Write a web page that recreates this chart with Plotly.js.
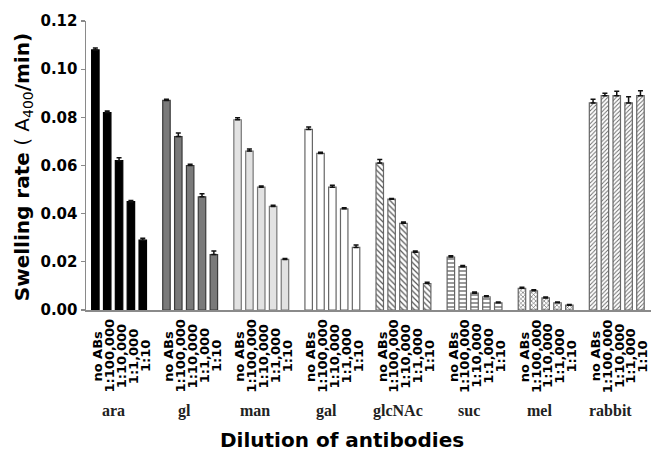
<!DOCTYPE html>
<html>
<head>
<meta charset="utf-8">
<script src="https://cdn.plot.ly/plotly-3.0.1.min.js"></script>
<style>html,body{margin:0;padding:0;background:#fff;}#chart{width:651px;height:451px;}</style>
</head>
<body>
<div id="chart"></div>
<script>
// ---- data ----
const groups = ["ara", "gl", "man", "gal", "glcNAc", "suc", "mel", "rabbit"];
const dilutions = ["no ABs", "1:100,000", "1:10,000", "1:1,000", "1:10"];

const ara    = [0.108, 0.082, 0.062, 0.045, 0.029];
const gl     = [0.087, 0.072, 0.060, 0.047, 0.023];
const man    = [0.079, 0.066, 0.051, 0.043, 0.021];
const gal    = [0.075, 0.065, 0.051, 0.042, 0.026];
const glcNAc = [0.061, 0.046, 0.036, 0.024, 0.011];
const suc    = [0.022, 0.018, 0.007, 0.0055, 0.003];
const mel    = [0.009, 0.008, 0.005, 0.003, 0.002];
const rabbit = [0.086, 0.089, 0.089, 0.086, 0.089];

const araErr    = [0.0008, 0.0006, 0.0012, 0.0005, 0.0008];
const glErr     = [0.0005, 0.0015, 0.0005, 0.0013, 0.0015];
const manErr    = [0.0008, 0.0008, 0.0005, 0.0005, 0.0004];
const galErr    = [0.0010, 0.0005, 0.0008, 0.0005, 0.0010];
const glcNAcErr = [0.0015, 0.0003, 0.0005, 0.0005, 0.0005];
const sucErr    = [0.0005, 0.0005, 0.0005, 0.0004, 0.0003];
const melErr    = [0.0004, 0.0004, 0.0004, 0.0003, 0.0003];
const rabbitErr = [0.0015, 0.0010, 0.0018, 0.0025, 0.0020];

const values = [ara, gl, man, gal, glcNAc, suc, mel, rabbit];
const errors = [araErr, glErr, manErr, galErr, glcNAcErr, sucErr, melErr, rabbitErr];

// ---- styles ----
const slotsPerGroup = 6;
const styles = [
  {color: "#000000", line: "#000000"},
  {color: "#7a7a7a", line: "#3a3a3a"},
  {color: "#e2e2e2", line: "#777777"},
  {color: "#ffffff", line: "#666666"},
  {color: "#ffffff", line: "#666666", pattern: {shape: "\\", size: 4, solidity: 0.3, fgcolor: "#555", bgcolor: "#fff"}},
  {color: "#ffffff", line: "#666666", pattern: {shape: "-", size: 4, solidity: 0.3, fgcolor: "#555", bgcolor: "#fff"}},
  {color: "#ffffff", line: "#666666", pattern: {shape: "x", size: 3, solidity: 0.35, fgcolor: "#555", bgcolor: "#fff"}},
  {color: "#ffffff", line: "#666666", pattern: {shape: "/", size: 3, solidity: 0.3, fgcolor: "#666", bgcolor: "#fff"}}
];

const traces = groups.map((g, gi) => {
  const xs = dilutions.map((d, i) => gi * slotsPerGroup + i);
  const st = styles[gi];
  const marker = {color: st.color, line: {color: st.line, width: 1.2}};
  if (st.pattern) marker.pattern = st.pattern;
  return {
    type: "bar",
    name: g,
    x: xs,
    y: values[gi],
    width: 0.63,
    marker: marker,
    error_y: {type: "data", symmetric: false, array: errors[gi], arrayminus: dilutions.map(() => 0),
              color: "#111", thickness: 1.5, width: 2.5},
    showlegend: false,
    hoverinfo: "x+y"
  };
});

const annotations = [];
groups.forEach((g, gi) => {
  dilutions.forEach((d, i) => {
    annotations.push({
      x: gi * slotsPerGroup + i, xref: "x", y: -0.16, yref: "paper",
      text: "<b>" + d + "</b>", textangle: -90, showarrow: false, xanchor: "center", yanchor: "middle", xshift: 2,
      font: {family: "DejaVu Sans", size: 13, color: "#000"}
    });
  });
  annotations.push({
    x: gi * slotsPerGroup + 1.5, xref: "x", y: -0.349, yref: "paper",
    text: "<b>" + g + "</b>", showarrow: false, xanchor: "center", yanchor: "middle",
    font: {family: "Liberation Serif", size: 16, color: "#222"}
  });
});
annotations.push({
  x: 0.453, xref: "paper", y: -0.45, yref: "paper",
  text: "<b>Dilution of antibodies</b>", showarrow: false, xanchor: "center", yanchor: "middle",
  font: {family: "DejaVu Sans", size: 20, color: "#000"}
});
annotations.push({
  x: -0.112, xref: "paper", y: 0.493, yref: "paper", textangle: -90,
  text: "<b>Swelling rate</b> ( A<sub>400</sub><b>/min)</b>", showarrow: false, xanchor: "center", yanchor: "middle",
  font: {family: "DejaVu Sans", size: 20, color: "#000"}
});

const layout = {
  width: 651, height: 451,
  margin: {l: 86, r: 0, t: 21, b: 141, pad: 0},
  paper_bgcolor: "#fff", plot_bgcolor: "#fff",
  bargap: 0,
  xaxis: {range: [-0.79, 46.89], showline: true, linecolor: "#8a8a8a", linewidth: 1.5,
          showticklabels: false, ticks: "", showgrid: false, zeroline: false, fixedrange: true},
  yaxis: {range: [0, 0.12], dtick: 0.02, tick0: 0, tickformat: ".2f", ticks: "outside", ticklen: 4,
          tickcolor: "#8a8a8a", tickwidth: 1.2, showline: true, linecolor: "#8a8a8a", linewidth: 1.5,
          showgrid: false, zeroline: false,
          tickfont: {family: "DejaVu Sans", size: 15, color: "#000", weight: "bold"}},
  annotations: annotations
};

Plotly.newPlot("chart", traces, layout, {displayModeBar: false, staticPlot: true});
</script>
</body>
</html>
